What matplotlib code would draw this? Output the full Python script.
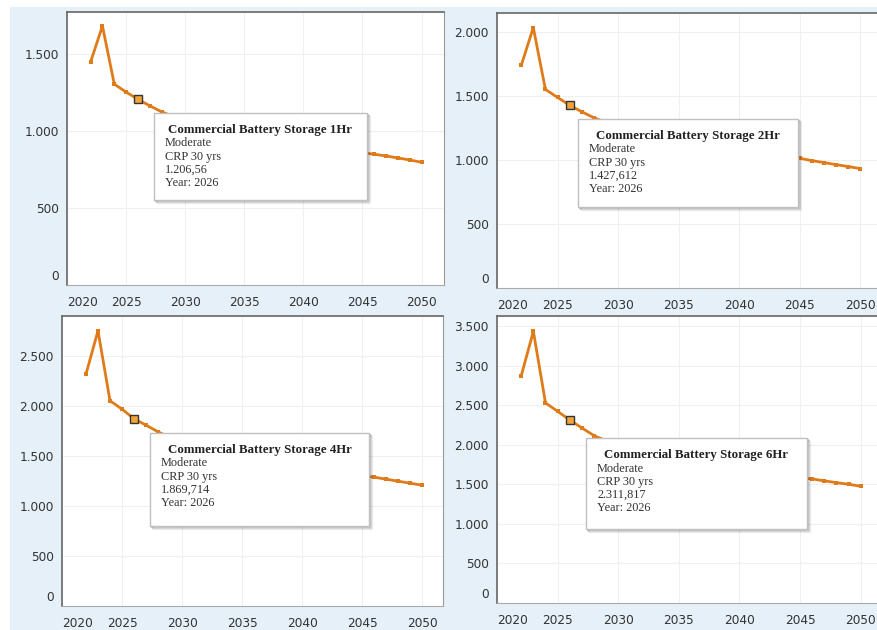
import matplotlib
matplotlib.use("Agg")
import matplotlib.pyplot as plt
from matplotlib.patches import Rectangle
from matplotlib.ticker import FuncFormatter
from matplotlib.transforms import ScaledTranslation

# Data (years 2022-2050)
years = list(range(2022, 2051))

storage_1hr = [1450, 1682, 1305, 1253, 1206.56, 1164, 1125, 1095, 1068, 1046,
               1027, 1010, 995, 981, 968, 955, 943, 931, 919, 907,
               895, 883, 871, 859, 849, 838, 825, 812, 797]
storage_2hr = [1738, 2034, 1551, 1489, 1427.612, 1377, 1330, 1295, 1264, 1238,
               1216, 1196, 1178, 1161, 1145, 1130, 1115, 1100, 1086, 1071,
               1057, 1042, 1028, 1014, 995, 980, 964, 949, 933]
storage_4hr = [2317, 2750, 2050, 1967, 1869.714, 1807, 1740, 1685, 1637, 1597,
               1563, 1533, 1506, 1482, 1460, 1439, 1419, 1402, 1385, 1368,
               1351, 1334, 1317, 1300, 1287, 1267, 1247, 1227, 1207]
storage_6hr = [2872, 3432, 2528, 2422, 2311.817, 2212, 2115, 2050, 1993, 1945,
               1904, 1868, 1836, 1807, 1780, 1755, 1731, 1710, 1688, 1667,
               1645, 1624, 1602, 1581, 1568, 1543, 1521, 1500, 1475]

titles = ["Commercial Battery Storage 1Hr", "Commercial Battery Storage 2Hr",
          "Commercial Battery Storage 4Hr", "Commercial Battery Storage 6Hr"]
value_labels = ["1.206,56", "1.427,612", "1.869,714", "2.311,817"]
case_label = "Moderate"
crp_label = "CRP 30 yrs"
hover_year = 2026

xticks = [2020, 2025, 2030, 2035, 2040, 2045, 2050]
yticks_all = [[0, 500, 1000, 1500],
              [0, 500, 1000, 1500, 2000],
              [0, 500, 1000, 1500, 2000, 2500],
              [0, 500, 1000, 1500, 2000, 2500, 3000, 3500]]
series_all = [storage_1hr, storage_2hr, storage_4hr, storage_6hr]

W, H = 877, 630
fig = plt.figure(figsize=(W / 100, H / 100), dpi=100)
fig.patch.set_facecolor("#e5f0f9")
# white margins of the screenshot
fig.add_artist(Rectangle((0, 0), 10 / W, 1, transform=fig.transFigure,
                         facecolor="white", edgecolor="none", zorder=-1))
fig.add_artist(Rectangle((0, 1 - 7 / H), 1, 7 / H, transform=fig.transFigure,
                         facecolor="white", edgecolor="none", zorder=-1))


def px_rect(l, t, r, b):
    return [l / W, 1 - b / H, (r - l) / W, (b - t) / H]


# plot areas in pixels: left, top, right, bottom, xmax, ymax, show right spine
panels = [
    (67, 12, 444, 285, 2051.9, 1773, True),
    (497, 13, 877, 288, 2051.4, 2148, False),
    (62, 316, 443, 606, 2051.75, 2897, True),
    (497, 316, 877, 603, 2051.35, 3626, False),
]
tooltips = [(154, 113, 367, 200), (578, 119, 798, 207),
            (150, 433, 369, 526), (586, 438, 807, 529)]

line_color = "#e07b1a"
fmt = FuncFormatter(lambda v, p: "{:,.0f}".format(v).replace(",", "."))

for i, (l, t, r, b, xmax, ymax, right_spine) in enumerate(panels):
    ax = fig.add_axes(px_rect(l, t, r, b))
    ax.set_facecolor("white")
    vals = series_all[i]
    ax.plot(years, vals, color=line_color, linewidth=2.0, marker="s",
            markersize=2.8, markeredgewidth=0, zorder=3)
    k = years.index(hover_year)
    ax.plot([years[k]], [vals[k]], marker="s", markersize=6,
            markerfacecolor="#f2a33a", markeredgecolor="#333333",
            markeredgewidth=1.0, linestyle="none", zorder=4)

    ax.set_xlim(2020, xmax)
    ax.set_ylim(0, ymax)
    ax.set_xticks(xticks)
    ax.set_yticks(yticks_all[i])
    ax.yaxis.set_major_formatter(fmt)
    ax.grid(True, color="#f0f0f0", linewidth=0.8)
    ax.set_axisbelow(True)
    ax.tick_params(axis="both", length=0, labelsize=8.7, colors="#333333")
    ax.tick_params(axis="x", pad=8)
    ax.tick_params(axis="y", pad=6)

    for side in ["left", "top"]:
        ax.spines[side].set_color("#666666")
        ax.spines[side].set_linewidth(1.2)
    ax.spines["bottom"].set_color("#aaaaaa")
    ax.spines["right"].set_color("#999999")
    ax.spines["right"].set_visible(right_spine)

    ax.get_xticklabels()[0].set_horizontalalignment("left")
    zero_lab = ax.get_yticklabels()[0]
    zero_lab.set_transform(zero_lab.get_transform() +
                           ScaledTranslation(0, 10 / 100, fig.dpi_scale_trans))

    # tooltip box
    tl, tt, tr, tb = tooltips[i]
    for off, alpha in [(3, 0.06), (2, 0.12), (1, 0.2)]:
        fig.add_artist(Rectangle(((tl + off) / W, 1 - (tb + off) / H),
                                 (tr - tl) / W, (tb - tt) / H,
                                 transform=fig.transFigure, facecolor="none",
                                 edgecolor="black", alpha=alpha,
                                 linewidth=1.0, zorder=5))
    fig.add_artist(Rectangle((tl / W, 1 - tb / H), (tr - tl) / W, (tb - tt) / H,
                             transform=fig.transFigure, facecolor="white",
                             edgecolor="#c0c0c0", linewidth=1.0, zorder=6))
    fig.text((tl + tr) / 2 / W, 1 - (tt + 17) / H, titles[i],
             ha="center", va="center", fontsize=9.3, fontweight="bold",
             family="Liberation Serif", color="#222222", zorder=7)
    lines = [case_label, crp_label, value_labels[i], "Year: %d" % hover_year]
    for j, txt in enumerate(lines):
        fig.text((tl + 11) / W, 1 - (tt + 30.5 + 13.2 * j) / H, txt,
                 ha="left", va="center", fontsize=8.8,
                 family="Liberation Serif", color="#333333", zorder=7)

fig.savefig("out.png", dpi=100, facecolor=fig.get_facecolor())
